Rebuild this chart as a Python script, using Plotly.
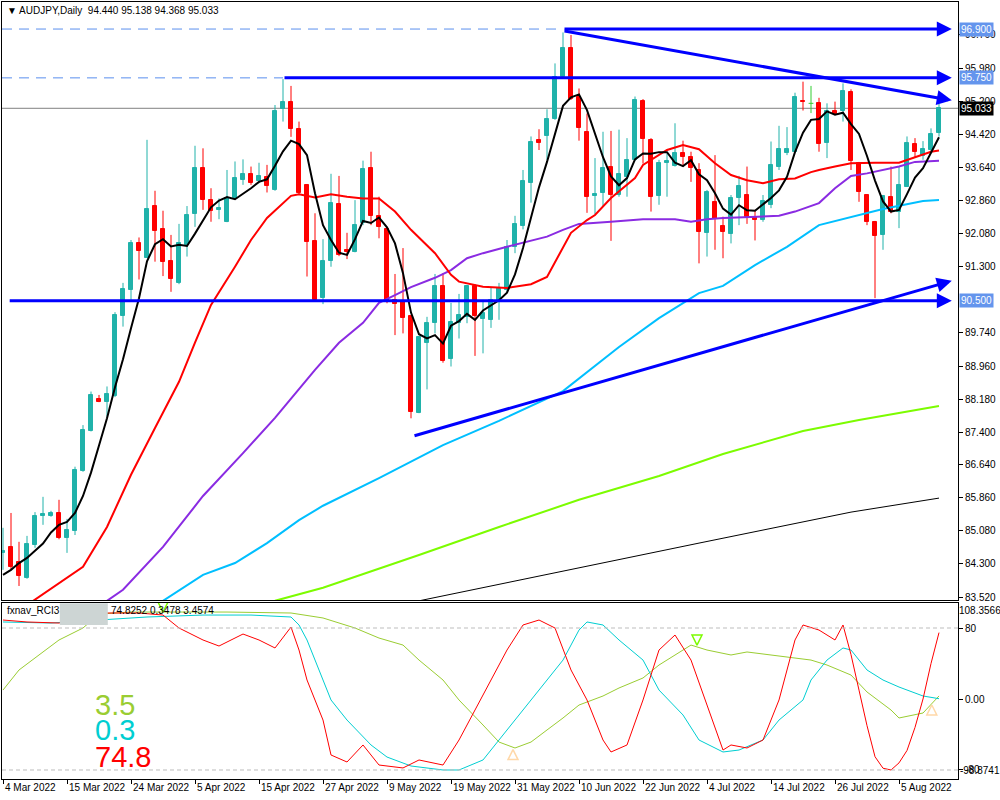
import plotly.graph_objects as go

# ---------------- data ----------------
opens = [84.56, 84.70, 84.35, 83.97, 84.75, 85.42, 85.44, 85.50, 84.92, 85.08,
         86.49, 87.44, 88.18, 88.12, 88.26, 90.14, 90.75, 91.85, 91.51, 92.73,
         92.19, 91.44, 90.91, 91.81, 92.54, 93.62, 92.87, 92.64, 92.36, 92.91,
         93.34, 93.49, 93.32, 93.41, 93.11, 95.01, 95.18, 94.54, 93.23, 91.91,
         90.57, 91.44, 92.77, 91.70, 91.65, 92.34, 93.62, 92.50, 92.19, 90.52,
         90.46, 90.14, 87.86, 89.50, 89.98, 90.85, 89.12, 89.97, 90.12, 90.85,
         90.06, 90.05, 90.47, 90.75, 91.77, 92.27, 93.27, 94.29, 94.37, 94.77,
         95.78, 96.45, 95.29, 94.47, 92.97, 93.03, 93.66, 92.99, 93.42, 93.82,
         95.21, 94.29, 92.96, 93.74, 93.67, 93.97, 93.89, 93.58, 92.10, 92.83,
         92.26, 92.07, 92.91, 92.99, 92.48, 92.40, 92.76, 93.66, 93.97, 94.01,
         95.21, 95.15, 95.15, 94.21, 94.97, 94.96, 95.42, 93.74, 92.99, 92.36,
         92.05, 92.94, 92.60, 93.19, 94.19, 93.91, 94.05, 94.440]
highs = [85.15, 85.50, 84.82, 84.96, 85.52, 85.88, 85.55, 85.81, 85.36, 86.59,
         87.57, 88.36, 88.28, 88.48, 90.23, 90.92, 91.93, 91.99, 94.29, 93.09,
         92.62, 92.05, 92.31, 92.73, 94.15, 94.09, 93.15, 92.91, 93.58, 93.78,
         93.83, 93.66, 93.75, 93.70, 95.11, 95.72, 95.56, 94.72, 93.25, 92.56,
         91.95, 93.49, 93.44, 92.10, 92.87, 93.80, 94.01, 92.95, 92.21, 91.13,
         91.74, 90.16, 89.67, 90.12, 91.13, 91.15, 90.45, 90.66, 90.87, 90.89,
         90.52, 90.80, 90.92, 91.93, 92.50, 93.58, 94.37, 94.54, 95.01, 96.09,
         96.82, 96.76, 95.50, 94.91, 93.86, 94.48, 94.50, 94.53, 94.33, 95.31,
         95.25, 94.33, 93.82, 93.97, 94.68, 94.27, 94.01, 93.74, 93.11, 93.93,
         92.48, 92.99, 93.44, 93.66, 92.64, 92.99, 94.25, 94.62, 94.59, 95.40,
         95.66, 95.56, 95.28, 95.15, 95.19, 95.62, 95.48, 93.77, 93.01, 92.38,
         92.99, 93.66, 93.66, 94.37, 94.33, 94.26, 94.56, 95.138]
lows = [84.16, 84.16, 83.78, 83.95, 84.68, 85.22, 85.41, 84.88, 84.56, 84.98,
        86.47, 87.42, 88.11, 87.77, 88.23, 89.89, 90.52, 91.00, 91.51, 91.42,
        91.08, 90.71, 90.89, 91.54, 92.24, 92.64, 92.36, 92.42, 92.35, 92.90,
        93.23, 93.23, 93.27, 93.05, 93.09, 94.72, 94.36, 93.01, 91.07, 90.50,
        90.42, 91.30, 91.55, 91.48, 91.64, 92.28, 92.28, 91.97, 90.44, 89.69,
        89.73, 87.73, 87.85, 88.41, 89.73, 89.04, 88.95, 89.61, 89.97, 89.20,
        89.26, 89.86, 90.05, 90.68, 91.62, 92.18, 92.81, 94.05, 93.82, 94.76,
        95.77, 95.23, 94.27, 92.57, 92.54, 92.72, 91.91, 92.95, 92.95, 93.79,
        93.73, 92.60, 92.76, 92.95, 93.66, 93.66, 93.30, 91.38, 91.54, 91.70,
        91.50, 91.85, 92.28, 92.31, 91.92, 92.36, 92.68, 93.58, 93.93, 94.00,
        94.98, 94.92, 94.01, 93.86, 94.88, 94.72, 93.58, 92.83, 92.28, 90.56,
        91.70, 92.56, 92.21, 93.18, 93.88, 93.82, 93.97, 94.368]
closes = [84.60, 84.23, 84.02, 84.77, 85.43, 85.48, 85.50, 84.92, 85.10, 86.51,
          87.46, 88.27, 88.12, 88.30, 90.16, 90.77, 91.87, 91.68, 92.66, 92.14,
          91.42, 91.01, 91.85, 92.52, 93.62, 92.87, 92.62, 92.68, 92.91, 93.38,
          93.49, 93.28, 93.44, 93.21, 94.98, 95.18, 94.54, 93.03, 91.89, 90.52,
          91.44, 92.80, 91.58, 91.65, 92.28, 93.60, 92.50, 92.24, 90.49, 90.42,
          90.09, 87.89, 89.65, 89.98, 90.85, 89.09, 89.99, 90.16, 90.85, 90.14,
          90.22, 90.52, 90.80, 91.77, 92.31, 93.32, 94.25, 94.21, 94.78, 95.76,
          96.45, 95.25, 94.56, 92.95, 93.02, 93.62, 92.99, 93.49, 93.82, 95.23,
          94.30, 92.94, 93.75, 93.79, 93.97, 93.89, 93.62, 92.13, 93.07, 92.42,
          92.13, 92.91, 93.20, 92.48, 92.39, 92.85, 93.70, 94.07, 94.07, 95.31,
          95.17, 95.15, 94.19, 94.98, 94.90, 95.45, 93.78, 93.05, 92.36, 92.03,
          92.96, 92.60, 93.23, 94.21, 94.01, 94.07, 94.43, 95.033]

date_tick_bars = [0, 8, 16, 24, 32, 40, 48, 56, 64, 72, 80, 88, 96, 104, 112]
date_labels = ["4 Mar 2022", "15 Mar 2022", "24 Mar 2022", "5 Apr 2022", "15 Apr 2022",
               "27 Apr 2022", "9 May 2022", "19 May 2022", "31 May 2022", "10 Jun 2022",
               "22 Jun 2022", "4 Jul 2022", "14 Jul 2022", "26 Jul 2022", "5 Aug 2022"]

price_ticks = [96.76, 95.98, 95.20, 94.42, 93.64, 92.86, 92.08, 91.30, 89.74,
               88.96, 88.18, 87.40, 86.64, 85.86, 85.08, 84.30, 83.52]
price_tick_text = ["96.760", "95.980", "95.200", "94.420", "93.640", "92.860", "92.080",
                   "91.300", "89.740", "88.960", "88.180", "87.400", "86.640", "85.860",
                   "85.080", "84.300", "83.520"]

# moving averages
ma_fast = [84.04, 84.16, 84.32, 84.44, 84.61, 84.78, 85.04, 85.22, 85.29, 85.50,
           85.90, 86.45, 87.09, 87.73, 88.46, 89.12, 89.85, 90.56, 91.43, 91.83,
           91.95, 91.78, 91.82, 91.79, 92.08, 92.38, 92.70, 92.86, 92.94, 92.89,
           93.01, 93.15, 93.30, 93.36, 93.68, 94.02, 94.27, 94.19, 93.93, 93.03,
           92.28, 91.93, 91.63, 91.58, 91.95, 92.38, 92.33, 92.46, 92.23, 91.85,
           91.15, 90.22, 89.71, 89.61, 89.69, 89.49, 89.91, 90.02, 90.19, 90.05,
           90.27, 90.38, 90.51, 90.69, 91.12, 91.74, 92.49, 93.17, 93.77, 94.45,
           95.09, 95.29, 95.36, 94.99, 94.45, 93.88, 93.43, 93.22, 93.39, 93.83,
           93.97, 93.96, 94.00, 94.00, 93.75, 93.67, 93.81, 93.48, 93.34, 93.03,
           92.67, 92.53, 92.75, 92.63, 92.62, 92.77, 92.92, 93.10, 93.42, 94.00,
           94.46, 94.76, 94.78, 94.96, 94.88, 94.93, 94.66, 94.43, 93.91, 93.33,
           92.84, 92.60, 92.64, 93.01, 93.40, 93.62, 93.99, 94.35]
ma_red_bar = [3, 8, 10, 13, 16, 19, 22, 24, 26, 29, 31, 33, 35, 36, 37, 39, 41, 43, 45, 47,
              49, 51, 54, 56, 57, 60, 63, 66, 68, 71, 73, 74, 76, 79, 80, 83, 85, 87, 89, 91,
              93, 95, 97, 99, 101, 102, 104, 106, 109, 112, 114, 116, 117]
ma_red = [83.33, 83.97, 84.23, 85.17, 86.40, 87.50, 88.59, 89.51, 90.40, 91.30, 91.93, 92.45,
          92.80, 92.97, 93.01, 92.93, 93.01, 92.95, 92.91, 92.91, 92.60, 92.17, 91.62, 91.11,
          90.95, 90.83, 90.80, 90.89, 91.06, 92.10, 92.40, 92.52, 92.92, 93.39, 93.70, 94.05,
          94.17, 94.07, 93.74, 93.46, 93.34, 93.27, 93.36, 93.38, 93.53, 93.58, 93.66, 93.74,
          93.75, 93.75, 93.88, 94.01, 94.04]
ma_purple_bar = [13, 15, 20, 25, 30, 34, 39, 42, 45, 47, 49, 51, 54, 56, 58, 60, 63, 68, 70,
                 72, 76, 80, 84, 86, 88, 90, 97, 99, 102, 104, 106, 108, 112, 114, 117]
ma_purple = [83.43, 83.69, 84.70, 85.90, 86.91, 87.74, 88.87, 89.51, 89.98, 90.45, 90.63, 90.82,
             91.04, 91.22, 91.50, 91.62, 91.77, 92.01, 92.17, 92.31, 92.36, 92.42, 92.42, 92.36,
             92.42, 92.45, 92.50, 92.60, 92.80, 93.15, 93.44, 93.50, 93.66, 93.77, 93.80]
ma_sky_bar = [20, 25, 29, 33, 37, 40, 47, 55, 62, 70, 77, 82, 87, 90, 94, 98, 102, 106, 110, 115, 117]
ma_sky = [83.43, 84.04, 84.32, 84.79, 85.33, 85.67, 86.32, 87.10, 87.67, 88.37, 89.41, 90.09,
          90.68, 90.85, 91.34, 91.77, 92.28, 92.47, 92.66, 92.85, 92.87]
ma_lime_bar = [34, 40, 52, 62, 72, 82, 90, 100, 107, 117]
ma_lime = [83.43, 83.74, 84.51, 85.17, 85.81, 86.37, 86.89, 87.43, 87.69, 88.02]
ma_long_bar = [52, 68, 87, 106, 117]
ma_long = [83.43, 84.06, 84.79, 85.52, 85.85]

# drawn objects
level_prices = [96.90, 95.75, 90.50]
level_start_bar = [70, 35, 0.65]
dashed_levels = [96.90, 95.75]
dashed_end_bar = [70, 35]
object_end_bar = 118.6
trend_down = [(70, 96.86), (118.6, 95.22)]
trend_up = [(51.25, 87.31), (118.6, 90.97)]

# RCI indicator
rci_red_bar = [0, 3, 7, 11, 13, 17, 20, 22, 25, 27, 30, 32, 34, 36, 37, 38, 40, 41, 43, 45,
               47, 50, 52, 55, 57, 59, 61, 63, 65, 67, 69, 71, 73, 75, 76, 78, 80, 82, 84, 86,
               88, 90, 91, 93, 95, 97, 99, 100, 102, 104, 105, 106, 107, 108, 109, 110, 111,
               112, 113, 114, 115, 116, 117]
rci_red = [89.0, 86.8, 85.6, 92.4, 96.9, 96.9, 94.6, 80.0, 66.5, 59.7, 73.2, 66.5, 57.5, 81.1,
           55.2, 21.4, -23.7, -63.1, -71.0, -51.8, -74.4, -77.7, -68.7, -74.4, -46.2, -12.4,
           21.4, 55.2, 83.4, 89.0, 80.0, 32.7, -1.1, -46.2, -59.7, -51.8, -1.1, 55.2, 72.1,
           43.9, -6.8, -57.5, -51.8, -55.2, -46.2, -1.1, 66.5, 83.4, 77.7, 66.5, 83.4, 50.0,
           10.0, -30.0, -65.0, -78.0, -80.0, -72.0, -58.0, -32.0, 0.0, 40.0, 74.8252]
rci_cyan_bar = [0, 6, 12, 18, 25, 31, 36, 37, 38, 41, 43, 46, 48, 51, 55, 57, 60, 62, 65, 67,
                70, 72, 73, 75, 77, 80, 82, 85, 87, 90, 92, 95, 97, 100, 101, 103, 105, 106,
                108, 110, 112, 115, 117]
rci_cyan = [86.8, 85.6, 89.0, 92.4, 94.6, 94.6, 92.4, 83.4, 66.5, -1.1, -23.7, -51.8, -65.4,
            -75.5, -80.0, -80.0, -68.7, -46.2, -12.4, 10.1, 43.9, 77.7, 86.8, 83.4, 66.5, 43.9,
            10.1, -18.0, -46.2, -59.7, -57.5, -46.2, -23.7, -1.1, 21.4, 43.9, 57.5, 55.2, 32.7,
            21.4, 13.5, 3.4, 0.3478]
rci_yg_bar = [0, 2, 5, 7, 10, 12, 16, 20, 28, 36, 40, 44, 47, 50, 52, 55, 57, 60, 62, 64, 66,
              68, 70, 72, 75, 77, 80, 82, 85, 86, 88, 91, 93, 96, 98, 101, 103, 106, 108, 111,
              112, 115, 117]
rci_yg = [10.1, 32.7, 53.0, 66.5, 80.0, 95.8, 98.0, 98.0, 98.0, 96.9, 91.3, 80.0, 68.7, 60.8,
          43.9, 21.4, -1.1, -29.3, -48.5, -55.2, -48.5, -34.9, -21.4, -6.8, 3.4, 12.4, 23.7,
          38.3, 55.2, 60.8, 55.2, 49.6, 53.0, 49.6, 47.3, 43.9, 38.3, 27.0, 7.9, -12.4, -21.4,
          -15.8, 3.4574]
sig_top_bar = [20, 86.75]
sig_top_val = [98.0, 60.8]
sig_bot_bar = [63.75, 116.1]
sig_bot_val = [-57.0, -6.8]
rci_max_label = "108.3566"
rci_min_label = "-98.8741"

# ---------------- figure ----------------
TEAL = "#20B2AA"
RED = "#FF0000"
FONT = "Liberation Sans, Arial, DejaVu Sans, sans-serif"
n = len(closes)
bars = list(range(n))
X_RANGE = [-0.125, 119.375]

up = [i for i in bars if closes[i] > opens[i]]
dn = [i for i in bars if closes[i] < opens[i]]
dj = [i for i in bars if closes[i] == opens[i]]


def wicks(idx):
    xs, ys = [], []
    for i in idx:
        xs += [i, i, None]
        ys += [lows[i], highs[i], None]
    return xs, ys


fig = go.Figure()
for idx, col in ((up, TEAL), (dn, RED), (dj, "#32CD32")):
    wx, wy = wicks(idx)
    fig.add_trace(go.Scatter(x=wx, y=wy, mode="lines", line=dict(color=col, width=1),
                             hoverinfo="skip", xaxis="x", yaxis="y"))
dx, dy = [], []
for i in dj:
    dx += [i - 0.3, i + 0.3, None]
    dy += [opens[i], opens[i], None]
fig.add_trace(go.Scatter(x=dx, y=dy, mode="lines", line=dict(color="#32CD32", width=1),
                         hoverinfo="skip", xaxis="x", yaxis="y"))
fig.add_trace(go.Bar(x=up, y=[closes[i] - opens[i] for i in up], base=[opens[i] for i in up],
                     width=0.5, marker=dict(color=TEAL, line=dict(color=TEAL, width=1)),
                     xaxis="x", yaxis="y"))
fig.add_trace(go.Bar(x=dn, y=[opens[i] - closes[i] for i in dn], base=[closes[i] for i in dn],
                     width=0.5, marker=dict(color=RED, line=dict(color=RED, width=1)),
                     xaxis="x", yaxis="y"))

for xs, ys, col, w in ((ma_long_bar, ma_long, "black", 1),
                       (ma_lime_bar, ma_lime, "#7CFC00", 2),
                       (ma_sky_bar, ma_sky, "#00BFFF", 2),
                       (ma_purple_bar, ma_purple, "#8A2BE2", 2),
                       (ma_red_bar, ma_red, RED, 2),
                       (bars, ma_fast, "black", 2)):
    fig.add_trace(go.Scatter(x=xs, y=ys, mode="lines", line=dict(color=col, width=w),
                             hoverinfo="skip", xaxis="x", yaxis="y"))

for xs, ys, col in ((rci_yg_bar, rci_yg, "#9ACD32"),
                    (rci_cyan_bar, rci_cyan, "#00CED1"),
                    (rci_red_bar, rci_red, RED)):
    fig.add_trace(go.Scatter(x=xs, y=ys, mode="lines", line=dict(color=col, width=1),
                             hoverinfo="skip", xaxis="x2", yaxis="y2"))
fig.add_trace(go.Scatter(x=sig_top_bar, y=sig_top_val, mode="markers",
                         marker=dict(symbol="arrow-down-open", size=10, color="#7CFC00",
                                     line=dict(width=1.5, color="#7CFC00")),
                         xaxis="x2", yaxis="y2", hoverinfo="skip"))
fig.add_trace(go.Scatter(x=sig_bot_bar, y=sig_bot_val, mode="markers",
                         marker=dict(symbol="arrow-up-open", size=10, color="#FFD8A8",
                                     line=dict(width=1.5, color="#FFD8A8")),
                         xaxis="x2", yaxis="y2", hoverinfo="skip"))

shapes = []
shapes.append(dict(type="line", xref="paper", x0=0, x1=1, yref="y", y0=closes[-1], y1=closes[-1],
                   line=dict(color="#808080", width=1), layer="below"))
for lv, xe in zip(dashed_levels, dashed_end_bar):
    shapes.append(dict(type="line", xref="x", x0=X_RANGE[0], x1=xe, yref="y", y0=lv, y1=lv,
                       line=dict(color="#5A8FEE", width=1, dash="10px,7px")))
for lv in (80, -80):
    shapes.append(dict(type="line", xref="paper", x0=0, x1=1, yref="y2", y0=lv, y1=lv,
                       line=dict(color="#BDBDBD", width=1, dash="4px,3px")))
shapes.append(dict(type="rect", xref="x2", x0=7.1, x1=13.1, yref="y2", y0=83.5, y1=108.0,
                   fillcolor="#CDD5D4", line=dict(width=0)))

annotations = []
for lv, xs in zip(level_prices, level_start_bar):
    annotations.append(dict(x=object_end_bar, y=lv, ax=xs, ay=lv, xref="x", yref="y",
                            axref="x", ayref="y", text="", showarrow=True, arrowhead=2,
                            arrowsize=1.0, arrowwidth=3, arrowcolor="#0000FF", standoff=0))
for (x0, y0), (x1, y1) in (trend_down, trend_up):
    annotations.append(dict(x=x1, y=y1, ax=x0, ay=y0, xref="x", yref="y", axref="x", ayref="y",
                            text="", showarrow=True, arrowhead=2, arrowsize=1.0, arrowwidth=3,
                            arrowcolor="#0000FF", standoff=0))
for lv in level_prices:
    annotations.append(dict(xref="paper", x=1, y=lv, yref="y", xanchor="left", yanchor="middle",
                            text=f"{lv:.3f}", showarrow=False, bgcolor="#6495ED", xshift=1,
                            font=dict(color="white", size=10, family=FONT), borderpad=1))
annotations.append(dict(xref="paper", x=1, y=closes[-1], yref="y", xanchor="left", yanchor="middle",
                        text=f"{closes[-1]:.3f}", showarrow=False, bgcolor="black", xshift=1,
                        font=dict(color="white", size=10, family=FONT), borderpad=1))
annotations.append(dict(xref="paper", yref="paper", x=0, y=1, xanchor="left", yanchor="top",
                        xshift=3, yshift=-1, showarrow=False,
                        text=f"▼ AUDJPY,Daily  {opens[-1]:.3f} {highs[-1]:.3f} {lows[-1]:.3f} {closes[-1]:.3f}",
                        font=dict(size=10, color="black", family=FONT)))
annotations.append(dict(xref="paper", yref="y2", x=0, y=108.0, xanchor="left", yanchor="top",
                        xshift=3, showarrow=False, text="fxnav_RCI3",
                        font=dict(size=10, color="black", family=FONT)))
annotations.append(dict(xref="x2", yref="y2", x=13.3, y=108.0, xanchor="left", yanchor="top",
                        showarrow=False,
                        text=f"{rci_red[-1]:.4f} {rci_cyan[-1]:.4f} {rci_yg[-1]:.4f}",
                        font=dict(size=10, color="black", family=FONT)))
for val, col, yy in ((rci_yg[-1], "#9ACD32", -6.8), (rci_cyan[-1], "#00CED1", -34.9),
                     (rci_red[-1], RED, -65.4)):
    annotations.append(dict(xref="x2", yref="y2", x=11.2, y=yy, xanchor="left", yanchor="middle",
                            showarrow=False, text=f"{val:.1f}",
                            font=dict(size=29, color=col, family=FONT)))
annotations.append(dict(xref="paper", yref="y2", x=1, y=108.0, xanchor="left", yanchor="top",
                        xshift=-1, showarrow=False, text=rci_max_label,
                        font=dict(size=10, color="black", family=FONT)))
annotations.append(dict(xref="paper", yref="y2", x=1, y=-81.0, xanchor="left", yanchor="middle",
                        xshift=0, showarrow=False, text=rci_min_label,
                        font=dict(size=10, color="black", family=FONT)))
for b, lab in zip(date_tick_bars, date_labels):
    annotations.append(dict(xref="x2", yref="paper", x=b, y=0, xanchor="left", yanchor="top",
                            yshift=-1, showarrow=False, text=lab,
                            font=dict(size=10, color="black", family=FONT)))

axis_common = dict(showgrid=False, zeroline=False, showline=True, mirror=True,
                   linecolor="black", linewidth=1)
fig.update_layout(
    width=1000, height=800,
    margin=dict(l=2, r=42, t=2, b=21),
    paper_bgcolor="white", plot_bgcolor="white",
    showlegend=False, barmode="overlay", bargap=0,
    font=dict(family=FONT, size=10, color="black"),
    xaxis=dict(domain=[0, 1], range=X_RANGE, anchor="y", showticklabels=False, ticks="",
               **axis_common),
    yaxis=dict(domain=[0.2304, 1], range=[83.45, 97.537], side="right", anchor="x",
               tickvals=price_ticks, ticktext=price_tick_text, ticks="outside", ticklen=4,
               tickcolor="black", tickfont=dict(size=10, color="black", family=FONT),
               **axis_common),
    xaxis2=dict(domain=[0, 1], range=X_RANGE, anchor="y2", tickvals=date_tick_bars,
                showticklabels=False, ticks="outside", ticklen=4, tickcolor="black",
                **axis_common),
    yaxis2=dict(domain=[0, 0.2265], range=[-90.14, 108.17], side="right", anchor="x2",
                tickvals=[80, 0, -80], ticktext=["80", "0.00", "-80"], ticks="outside",
                ticklen=4, tickcolor="black", tickfont=dict(size=10, color="black", family=FONT),
                **axis_common),
    shapes=shapes, annotations=annotations,
)

fig.write_html("out.html", config={"displayModeBar": False},
               post_script="document.body.style.margin='0px';document.body.style.overflow='hidden';")
